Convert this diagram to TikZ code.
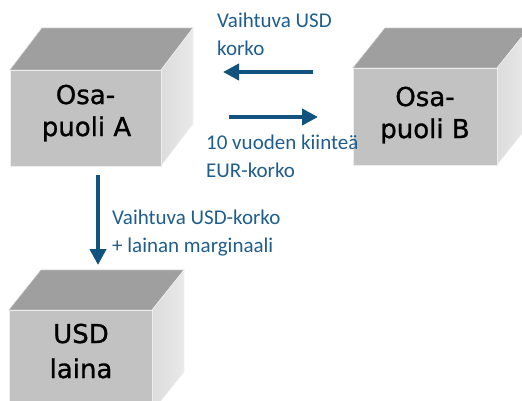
\documentclass[tikz,border=0pt]{standalone}
\usepackage{fontspec}
\setmainfont{Carlito}
\newfontfamily\boxfont[FakeBold=1]{DejaVu Sans}
\usetikzlibrary{arrows.meta}

\definecolor{frontgray}{HTML}{C2C2C2}
\definecolor{topgray}{HTML}{9F9F9F}
\definecolor{sidelight}{HTML}{E9E9E9}
\definecolor{sidedark}{HTML}{DCDCDC}
\definecolor{labelblue}{RGB}{31,94,140}
\definecolor{flowblue}{RGB}{18,82,126}

\tikzset{
  x=1pt, y=-1pt,
  frontface/.style={fill=frontgray, draw=white!70!frontgray, line width=0.8pt},
  topface/.style={fill=topgray, draw=white!40!topgray, line width=0.6pt},
  sideface/.style={left color=sidedark, right color=sidelight, draw=white!60!sidedark, line width=0.6pt},
  boxlabel/.style={font=\boxfont\fontsize{26}{32}\selectfont, align=center, anchor=base, inner sep=0pt, text=black},
  flowlabel/.style={font=\fontsize{21}{28}\selectfont, align=left, anchor=base west, inner sep=0pt, text=labelblue},
  flow/.style={draw=flowblue, line width=4pt, -{Triangle[length=16pt,width=16pt]}}
}

% cuboid: front face corners (#2,#3)-(#4,#5), depth offset (#6,#7)
\newcommand{\cuboid}[7]{%
  \path[topface] (#2,#3) -- (#2+#6,#3-#7) -- (#4+#6,#3-#7) -- (#4,#3) -- cycle;
  \path[sideface] (#4,#3) -- (#4+#6,#3-#7) -- (#4+#6,#5-#7) -- (#4,#5) -- cycle;
  \node[frontface, inner sep=0pt, minimum width=#4-#2, minimum height=#5-#3]
    (#1) at ({(#2+#4)/2},{(#3+#5)/2}) {};
}

\begin{document}
\begin{tikzpicture}
  \useasboundingbox (0,0) rectangle (522,400);
  \begin{scope}
    \clip (0,0) rectangle (522,400);

    % the three blocks
    \cuboid{partyA}{10}{70}{161}{166}{32}{42}
    \cuboid{partyB}{353}{68}{497}{165}{32}{40}
    \cuboid{loan}{9}{310}{152}{412}{32}{40}

    \node[boxlabel] (partyAtop) at (85.5,104) {Osa-};
    \node[boxlabel] (partyAbot) at (86.5,136) {puoli A};
    \node[boxlabel] (partyBtop) at (425,106) {Osa-};
    \node[boxlabel] (partyBbot) at (425,138) {puoli B};
    \node[boxlabel] (loantop) at (81,343) {USD};
    \node[boxlabel] (loanbot) at (81,378) {laina};
  \end{scope}

  % payment flows
  \coordinate (usdFrom) at (313,72);
  \coordinate (usdTo) at (223,72);
  \coordinate (eurFrom) at (229,117);
  \coordinate (eurTo) at (318,117);
  \coordinate (loanFrom) at (98,175);
  \coordinate (loanTo) at (98,265);

  \draw[flow] (usdFrom) -- (usdTo);
  \draw[flow] (eurFrom) -- (eurTo);
  \draw[flow] (loanFrom) -- (loanTo);

  % flow labels (base anchor sits on the last line)
  \node[flowlabel] (usdLabel) at (217,55) {Vaihtuva USD\\korko};
  \node[flowlabel] (eurLabel) at (206,177) {10 vuoden kiinteä\\EUR-korko};
  \node[flowlabel] (loanLabel) at (112,252) {Vaihtuva USD-korko\\+ lainan marginaali};
\end{tikzpicture}
\end{document}
